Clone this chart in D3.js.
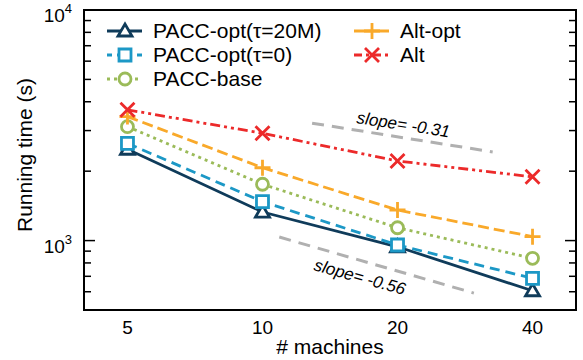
<!DOCTYPE html>
<html lang="en">
<head>
<meta charset="UTF-8">
<title>Running time vs machines</title>
<script src="https://d3js.org/d3.v7.min.js"></script>
<style>
  body { margin: 0; background: #fff; }
  text { font-family: 'Liberation Sans', Arial, sans-serif; fill: #000; }
</style>
</head>
<body>
<svg width="583" height="360"></svg>
<script>
// data
var machines = [5, 10, 20, 40];
var xTicks = [5, 10, 20, 40];
var paccOpt20M = [2490, 1330, 940, 606];
var paccOpt0 = [2640, 1475, 957, 686];
var paccBase = [3120, 1755, 1137, 838];
var altOpt = [3450, 2070, 1357, 1040];
var alt = [3690, 2920, 2215, 1890];
var seriesNames = ["PACC-opt(\u03c4=20M)", "PACC-opt(\u03c4=0)", "PACC-base", "Alt-opt", "Alt"];
// slope guide lines: [x start, x end, y at start, slope, label]
var guides = [
    [12.9, 32.6, 3230, -0.31, "slope= -0.31"],
    [10.9, 29.6, 1036, -0.56, "slope= -0.56"]
];

var svg = d3.select("svg");
var pLeft = 84, pRight = 576, pTop = 10, pBottom = 310;

var x = d3.scaleLog().domain([4, 50]).range([pLeft, pRight]);
var y = d3.scaleLog().domain([500, 10000]).range([pBottom, pTop]);

var styles = [
    {color: "#0f3b5a", dash: null, marker: "tri"},
    {color: "#1c98c6", dash: "10,6", marker: "square"},
    {color: "#9bbb59", dash: "3,4", marker: "circle"},
    {color: "#f9a92a", dash: "11,5", marker: "plus"},
    {color: "#ec2a2a", dash: "10,4,3,4,3,4", marker: "cross"}
];
var allSeries = [paccOpt20M, paccOpt0, paccBase, altOpt, alt];

function markerPath(type) {
    if (type === "tri") return "M-7,5L7,5L0,-7Z";
    if (type === "square") return "M-6,-6H6V6H-6Z";
    if (type === "circle") return "M6,0A6,6 0 1,1 -6,0A6,6 0 1,1 6,0Z";
    if (type === "plus") return "M-8,0H8M0,-8V8";
    return "M-7,-7L7,7M-7,7L7,-7";
}
function markerFill(type) {
    return (type === "tri" || type === "square" || type === "circle") ? "#fff" : "none";
}

// y minor/major ticks, inward on both sides
var yTickVals = [500,600,700,800,900,1000,2000,3000,4000,5000,6000,7000,8000,9000,10000];
yTickVals.forEach(function(v) {
    var major = (v === 1000 || v === 10000);
    var len = major ? 11 : 7;
    svg.append("line").attr("x1", pLeft).attr("x2", pLeft + len)
        .attr("y1", y(v)).attr("y2", y(v)).attr("stroke", "#000").attr("stroke-width", 1.5);
    svg.append("line").attr("x1", pRight).attr("x2", pRight - len)
        .attr("y1", y(v)).attr("y2", y(v)).attr("stroke", "#000").attr("stroke-width", 1.5);
});

// y tick labels 10^3, 10^4
[[1000, "3"], [10000, "4"]].forEach(function(t) {
    var txt = svg.append("text").attr("x", 72).attr("y", y(t[0]) + 12)
        .attr("text-anchor", "end").style("font-size", "19px");
    txt.append("tspan").text("10");
    txt.append("tspan").attr("dy", -9).style("font-size", "13px").text(t[1]);
});

// x tick labels
svg.selectAll(".xlab").data(xTicks).enter().append("text")
    .attr("class", "xlab")
    .attr("x", function(d) { return x(d); })
    .attr("y", 334)
    .attr("text-anchor", "middle")
    .style("font-size", "19px")
    .text(function(d) { return d; });

// axis titles
svg.append("text").attr("x", (pLeft + pRight) / 2).attr("y", 354)
    .attr("text-anchor", "middle").style("font-size", "21px").text("# machines");
svg.append("text").attr("transform", "translate(32,155) rotate(-90)")
    .attr("text-anchor", "middle").style("font-size", "21px").text("Running time (s)");

// slope guides
guides.forEach(function(g) {
    var x0 = g[0], x1 = g[1], y0 = g[2];
    var y1 = y0 * Math.pow(x1 / x0, g[3]);
    svg.append("line")
        .attr("x1", x(x0)).attr("y1", y(y0)).attr("x2", x(x1)).attr("y2", y(y1))
        .attr("stroke", "#b0b0b0").attr("stroke-width", 3).attr("stroke-dasharray", "12,8");
});
svg.append("text").attr("transform", "translate(356,123) rotate(8.8)")
    .style("font-size", "17px").style("font-style", "italic").text(guides[0][4]);
svg.append("text").attr("transform", "translate(313,270) rotate(15.5)")
    .style("font-size", "17px").style("font-style", "italic").text(guides[1][4]);

// series
var line = d3.line().x(function(d) { return x(d[0]); }).y(function(d) { return y(d[1]); });
allSeries.forEach(function(vals, i) {
    var st = styles[i];
    var pts = machines.map(function(m, j) { return [m, vals[j]]; });
    svg.append("path").datum(pts).attr("d", line)
        .attr("fill", "none").attr("stroke", st.color).attr("stroke-width", 2.8)
        .attr("stroke-dasharray", st.dash);
    svg.selectAll(".m" + i).data(pts).enter().append("path")
        .attr("class", "m" + i)
        .attr("transform", function(d) { return "translate(" + x(d[0]) + "," + y(d[1]) + ")"; })
        .attr("d", markerPath(st.marker))
        .attr("fill", markerFill(st.marker))
        .attr("stroke", st.color).attr("stroke-width", 2.8);
});

// legend
var legendPos = [[107, 31], [107, 55], [107, 79], [354, 31], [354, 55]];
var legendDash = [null, "5,5", "3,4", null, "8,4,3,4"];
seriesNames.forEach(function(name, i) {
    var p = legendPos[i], st = styles[i];
    svg.append("line").attr("x1", p[0]).attr("x2", p[0] + 35).attr("y1", p[1]).attr("y2", p[1])
        .attr("stroke", st.color).attr("stroke-width", 2.8).attr("stroke-dasharray", legendDash[i]);
    svg.append("path").attr("transform", "translate(" + (p[0] + 18) + "," + p[1] + ")")
        .attr("d", markerPath(st.marker))
        .attr("fill", markerFill(st.marker))
        .attr("stroke", st.color).attr("stroke-width", 2.8);
    svg.append("text").attr("x", p[0] + 46).attr("y", p[1] + 7)
        .style("font-size", "21px").text(name);
});

// frame
svg.append("rect").attr("x", pLeft).attr("y", pTop).attr("width", pRight - pLeft).attr("height", pBottom - pTop)
    .attr("fill", "none").attr("stroke", "#000").attr("stroke-width", 2);
</script>
</body>
</html>
